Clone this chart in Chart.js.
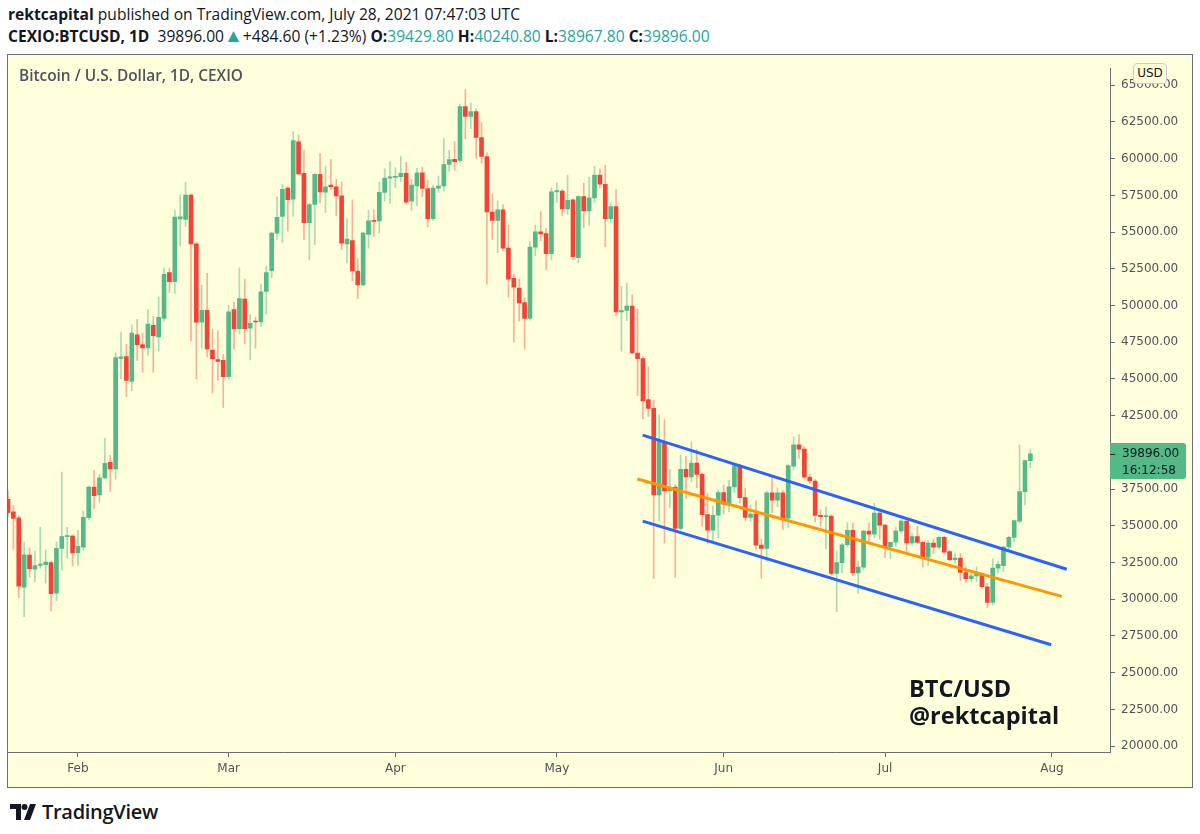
<!DOCTYPE html>
<html>
<head>
<meta charset="utf-8">
<script src="https://cdn.jsdelivr.net/npm/chart.js@4.4.1/dist/chart.umd.min.js"></script>
<style>
  html, body { margin: 0; padding: 0; background: #fff; }
  body { width: 1200px; height: 834px; position: relative; overflow: hidden; font-family: 'Open Sans', sans-serif; color: #131722; }
  .hdr { position: absolute; left: 8px; white-space: nowrap; font-size: 15.6px; }
  .hdr1 { top: 3px; }
  .hdr2 { top: 25px; }
  .teal { color: #26a69a; }
  .tri { color: #26a69a; font-size: 19px; line-height: 15px; }
  .frame { position: absolute; left: 7px; top: 54px; width: 1186px; height: 734px; box-sizing: border-box; border: 1px solid #6a6d78; background: #ffffdc; }
  .chart-box { position: absolute; left: 8px; top: 55px; width: 1184px; height: 732px; }
  .title { position: absolute; left: 19px; top: 65px; font-size: 15.4px; font-weight: 600; color: #50535e; white-space: nowrap; }
  .usd { position: absolute; left: 1133px; top: 63px; width: 34px; height: 21px; box-sizing: border-box; border: 1px solid #c5cbd9; border-radius: 4px; background: #ffffdc; font: 12px 'DejaVu Sans', sans-serif; color: #131722; text-align: center; line-height: 19px; }
  .wm { position: absolute; left: 909px; font-weight: 700; font-size: 23.5px; color: #131722; white-space: nowrap; }
  .logo { position: absolute; left: 10px; top: 798px; display: flex; align-items: center; gap: 4px; }
  .logo span { font-size: 20px; font-weight: 600; letter-spacing: -0.3px; color: #131722; }
</style>
</head>
<body>
<div class="hdr hdr1"><b>rektcapital</b> published on TradingView.com, July 28, 2021 07:47:03 UTC</div>
<div class="hdr hdr2"><b>CEXIO:BTCUSD, 1D</b>&nbsp; 39896.00<span class="tri">▲</span>+484.60 (+1.23%) <b>O:</b><span class="teal">39429.80</span> <b>H:</b><span class="teal">40240.80</span> <b>L:</b><span class="teal">38967.80</span> <b>C:</b><span class="teal">39896.00</span></div>
<div class="frame"></div>
<div class="chart-box"><canvas id="chart"></canvas></div>
<div class="title">Bitcoin / U.S. Dollar, 1D, CEXIO</div>
<div class="usd">USD</div>
<div class="wm" style="top:672px">BTC/USD</div>
<div class="wm" style="top:699px">@rektcapital</div>
<div class="logo">
  <svg width="28" height="18" viewBox="0 0 28 18">
    <path d="M0 1h11v16H6V6H0z" fill="#131722"/>
    <circle cx="14.5" cy="4" r="3" fill="#131722"/>
    <path d="M20 1h6l-6 16h-6z" fill="#131722"/>
  </svg>
  <span>TradingView</span>
</div>
<script>
// first candle is Jan 19, x positions are days counted from Feb 1
const START_DAY = -13;

// Jan 19 .. Jul 28, one value per day
const opens = [
  36800, 35950, 35550, 30820, 33000, 32050, 32300, 32350, 32490, 30420, 33460, 34270, 34300,
  33150, 33540, 35550, 37640, 37100, 38270, 39320, 38880, 46400, 46520, 44830, 48000, 47340, 47120, 48650, 47860, 49120, 52250, 51630, 55900, 55870, 57520, 54200, 48860, 49680, 46970, 46320, 46270,
  45160, 49730, 48430, 50440, 48460, 48930, 48880, 50960, 52370, 54930, 56070, 58000, 57240, 61150, 59000, 55650, 56880, 58930, 57720, 58200, 58080, 57470, 54200, 54420, 52350, 51400, 54850, 55800, 55760, 57700, 58680,
  58720, 58770, 59000, 57100, 58150, 59040, 57970, 55920, 57990, 58140, 59600, 59950, 59880, 63540, 62870, 63200, 61440, 60150, 56370, 55800, 56520, 53910, 51850, 51180, 50200, 49120, 53980, 55020, 54900, 53530,
  57740, 57800, 56570, 57200, 53260, 57420, 56440, 57330, 58880, 58260, 55920, 56740, 49570, 49660, 49960, 46770, 46390, 43600, 43000, 37100, 40650, 37370, 37640, 34830, 38840, 38330, 39280, 38500, 35760, 34700, 35720,
  37270, 36500, 37650, 39100, 36920, 35580, 35800, 33690, 33460, 37240, 36750, 37240, 35530, 39070, 40510, 40220, 38320, 38050, 35710, 35620, 35660, 31760, 32490, 33710, 34700, 31790, 32190, 34650, 34430, 35870,
  35050, 33580, 33880, 34650, 35320, 33830, 34270, 33870, 32870, 33830, 33540, 34210, 33250, 32690, 32800, 31820, 31410, 31590, 31760, 30850, 29790, 32120, 32290, 33560, 34210, 35320, 37330, 39430,
];
const highs = [
  37400, 36400, 35700, 33900, 33500, 33300, 34900, 33350, 32600, 33900, 38660, 34900, 34400,
  34700, 36000, 37700, 38770, 38500, 40950, 39800, 46780, 48190, 47350, 48670, 49060, 48100, 49700, 49250, 50600, 52550, 52550, 56480, 57540, 58410, 57600, 54300, 51400, 52200, 48400, 48300, 46680,
  50000, 50240, 52570, 51800, 49400, 49200, 51460, 52700, 55000, 57400, 58270, 58100, 61820, 61600, 60580, 57000, 58990, 60350, 59500, 59950, 58600, 58400, 55920, 57200, 53200, 55000, 56500, 56540, 58410, 59300, 59810,
  59400, 60150, 59750, 58600, 59350, 59420, 58540, 58200, 58810, 61370, 60560, 61150, 63720, 64700, 63800, 63400, 62490, 60400, 57600, 57130, 56870, 55470, 52130, 51800, 50540, 54350, 55470, 56400, 55250, 58000,
  58360, 57900, 58880, 57250, 57500, 58340, 58730, 59480, 59300, 59540, 57000, 57900, 51300, 51530, 50730, 49740, 46500, 45830, 43570, 42580, 42240, 38840, 37800, 39820, 39730, 40710, 40200, 38600, 37200, 36320, 37450,
  37770, 38100, 39220, 39200, 37550, 36430, 36700, 34090, 37370, 38320, 37590, 37400, 39200, 41060, 41220, 40400, 38500, 38150, 36100, 36300, 35750, 33300, 33800, 35220, 35200, 32600, 34700, 35220, 36540, 36000,
  35100, 33900, 34900, 35430, 35350, 34500, 34970, 33950, 34000, 34100, 34300, 34300, 33350, 33150, 33130, 32200, 31900, 32200, 31800, 31090, 32760, 32600, 33600, 34300, 35400, 40490, 39500, 40240,
];
const lows = [
  35600, 33400, 30100, 28820, 31500, 31200, 32100, 31100, 29200, 29900, 31970, 32800, 32260,
  32300, 33350, 35400, 36170, 36600, 38200, 37350, 38180, 45000, 43800, 44200, 46250, 45460, 46600, 45460, 46900, 48900, 50900, 50800, 54020, 55400, 47580, 45000, 47120, 46500, 44050, 44900, 43060,
  45000, 47040, 48100, 47400, 46300, 47100, 48600, 49400, 51900, 54500, 54300, 55070, 56090, 58900, 54510, 53130, 54140, 56980, 56340, 57900, 56140, 53800, 52900, 51680, 50460, 51350, 53900, 54700, 54930, 57130, 56940,
  58000, 58410, 56950, 56470, 56800, 57420, 55360, 55800, 57700, 57800, 59140, 59240, 59750, 61370, 62050, 60020, 59700, 51460, 54510, 53600, 53700, 50570, 47500, 48940, 47050, 49000, 53400, 54400, 52460, 53100,
  57030, 56140, 56200, 53100, 52900, 55320, 55450, 57000, 58000, 54000, 55600, 49300, 46900, 48970, 46700, 43880, 42280, 42450, 31420, 35340, 33820, 36250, 31490, 34700, 36830, 38000, 37590, 34980, 33760, 34000, 34200,
  35810, 35950, 37250, 36550, 35360, 35300, 33400, 31420, 32580, 35900, 36300, 34760, 34910, 38800, 39590, 38200, 37900, 35270, 34970, 33430, 31650, 29150, 31790, 33600, 31600, 30400, 32000, 33760, 34200, 34090,
  32830, 32760, 33600, 34500, 33210, 33700, 33800, 32190, 32300, 33100, 33400, 33100, 32600, 32450, 31270, 31130, 31200, 31200, 30750, 29420, 29600, 31800, 31900, 33450, 33900, 35200, 36430, 38968,
];
const closes = [
  35900, 35500, 30890, 33030, 32090, 32300, 32400, 32530, 30380, 33460, 34270, 34330, 33150,
  33610, 35580, 37640, 37050, 38270, 39250, 38880, 46450, 46500, 44900, 48120, 47340, 47120, 48740, 47940, 49190, 52130, 51630, 56030, 56040, 57520, 54200, 48860, 49680, 47050, 46390, 46190, 45160,
  49570, 48410, 50480, 48430, 48790, 48880, 50930, 52250, 54930, 56000, 57910, 57200, 61240, 58970, 55650, 56880, 58930, 57740, 58080, 58100, 57470, 54240, 54530, 52350, 51400, 54930, 55760, 55730, 57700, 58680, 58770,
  58800, 59000, 57030, 58200, 59040, 57970, 55920, 57990, 58140, 59590, 59930, 59800, 63540, 62870, 63200, 61440, 60150, 56370, 55800, 56520, 53910, 51800, 51250, 50180, 49120, 53980, 55020, 54870, 53530, 57740,
  57820, 56570, 57170, 53330, 57420, 56440, 57330, 58880, 58260, 55920, 56740, 49570, 49650, 49960, 46770, 46390, 43500, 43000, 37100, 40770, 37370, 37540, 34830, 38840, 38330, 39280, 38500, 35760, 34700, 35720, 37270,
  36470, 37650, 39100, 36920, 35580, 35800, 33690, 33460, 37240, 36750, 37240, 35530, 39100, 40510, 40220, 38320, 38050, 35710, 35620, 35700, 31760, 32490, 33710, 34700, 31790, 32190, 34650, 34430, 35870, 35050,
  33580, 33880, 34650, 35320, 33830, 34270, 33870, 32870, 33830, 33540, 34210, 33210, 32690, 32800, 31820, 31410, 31590, 31760, 30850, 29790, 32120, 32370, 33560, 34210, 35360, 37330, 39440, 39896,
];

const monthTickDays = [0, 28, 59, 89, 120, 150, 181];
const monthLabels = ['Feb', 'Mar', 'Apr', 'May', 'Jun', 'Jul', 'Aug'];
const priceTicks = [20000, 22500, 25000, 27500, 30000, 32500, 35000, 37500, 40000, 42500, 45000, 47500, 50000, 52500, 55000, 57500, 60000, 62500, 65000];

// drawn channel: [day, price] at both ends
const upperChannel = [[104.96, 41180], [183.77, 32040]];
const midLine = [[103.96, 38190], [182.84, 30200]];
const lowerChannel = [[104.96, 35320], [180.86, 26900]];

const UP = '#53b987';
const DOWN = '#f44336';
const UP_WICK = 'rgba(83, 185, 135, 0.5)';
const DOWN_WICK = 'rgba(244, 67, 54, 0.42)';
const AXIS = '#6a6d78';

const isUp = i => closes[i] >= opens[i];
const days = opens.map((_, i) => START_DAY + i);
const toPoints = pts => pts.map(([x, y]) => ({ x, y }));

const lastPriceTag = {
  id: 'lastPriceTag',
  afterDraw(chart) {
    const { ctx, chartArea } = chart;
    const last = closes[closes.length - 1];
    const y = chart.scales.y.getPixelForValue(last);
    const x = chartArea.right;
    ctx.save();
    ctx.fillStyle = UP;
    ctx.beginPath();
    ctx.roundRect(x, y - 11, 76, 36, [0, 3, 3, 0]);
    ctx.fill();
    ctx.strokeStyle = '#131722';
    ctx.lineWidth = 1;
    ctx.beginPath();
    ctx.moveTo(x, y + 0.5);
    ctx.lineTo(x + 5, y + 0.5);
    ctx.stroke();
    ctx.fillStyle = '#131722';
    ctx.font = '12px "DejaVu Sans", sans-serif';
    ctx.textBaseline = 'middle';
    ctx.textAlign = 'left';
    ctx.fillText(last.toFixed(2), x + 12, y);
    ctx.fillText('16:12:58', x + 12, y + 17);
    ctx.restore();
  },
};

const lineSet = (pts, color) => ({
  type: 'line',
  data: toPoints(pts),
  borderColor: color,
  borderWidth: 3,
  pointRadius: 0,
  fill: false,
  order: 0,
});

new Chart(document.getElementById('chart'), {
  type: 'bar',
  data: {
    datasets: [
      {
        label: 'wicks',
        data: days.map((d, i) => ({ x: d, y: [lows[i], highs[i]] })),
        backgroundColor: ctx => (isUp(ctx.dataIndex) ? UP_WICK : DOWN_WICK),
        barThickness: 1,
        order: 2,
      },
      {
        label: 'bodies',
        data: days.map((d, i) => ({ x: d, y: [opens[i], closes[i]] })),
        backgroundColor: ctx => (isUp(ctx.dataIndex) ? UP : DOWN),
        barThickness: 4,
        minBarLength: 1,
        order: 1,
      },
      lineSet(upperChannel, '#2962ff'),
      lineSet(midLine, '#ff9800'),
      lineSet(lowerChannel, '#2962ff'),
    ],
  },
  options: {
    responsive: true,
    maintainAspectRatio: false,
    animation: false,
    grouped: false,
    layout: { padding: 0 },
    plugins: {
      legend: { display: false },
      tooltip: { enabled: false },
    },
    scales: {
      x: {
        type: 'linear',
        min: -13,
        max: 191.8,
        offset: false,
        afterBuildTicks: scale => {
          scale.ticks = monthTickDays.map(value => ({ value }));
        },
        afterFit: scale => { scale.height = 35; },
        ticks: {
          color: '#50535e',
          font: { family: 'DejaVu Sans', size: 12 },
          padding: 5,
          maxRotation: 0,
          autoSkip: false,
          callback: value => monthLabels[monthTickDays.indexOf(value)],
        },
        grid: { offset: false, drawOnChartArea: false, tickLength: 5, color: AXIS },
        border: { display: true, color: AXIS },
      },
      y: {
        position: 'right',
        min: 19600,
        max: 66160,
        afterBuildTicks: scale => {
          scale.ticks = priceTicks.map(value => ({ value }));
        },
        afterFit: scale => { scale.width = 82; },
        ticks: {
          color: '#50535e',
          font: { family: 'DejaVu Sans', size: 12 },
          padding: 6,
          callback: value => value.toFixed(2),
        },
        grid: { drawOnChartArea: false, tickLength: 5, color: AXIS },
        border: { display: true, color: AXIS },
      },
    },
  },
  plugins: [lastPriceTag],
});
</script>
</body>
</html>
